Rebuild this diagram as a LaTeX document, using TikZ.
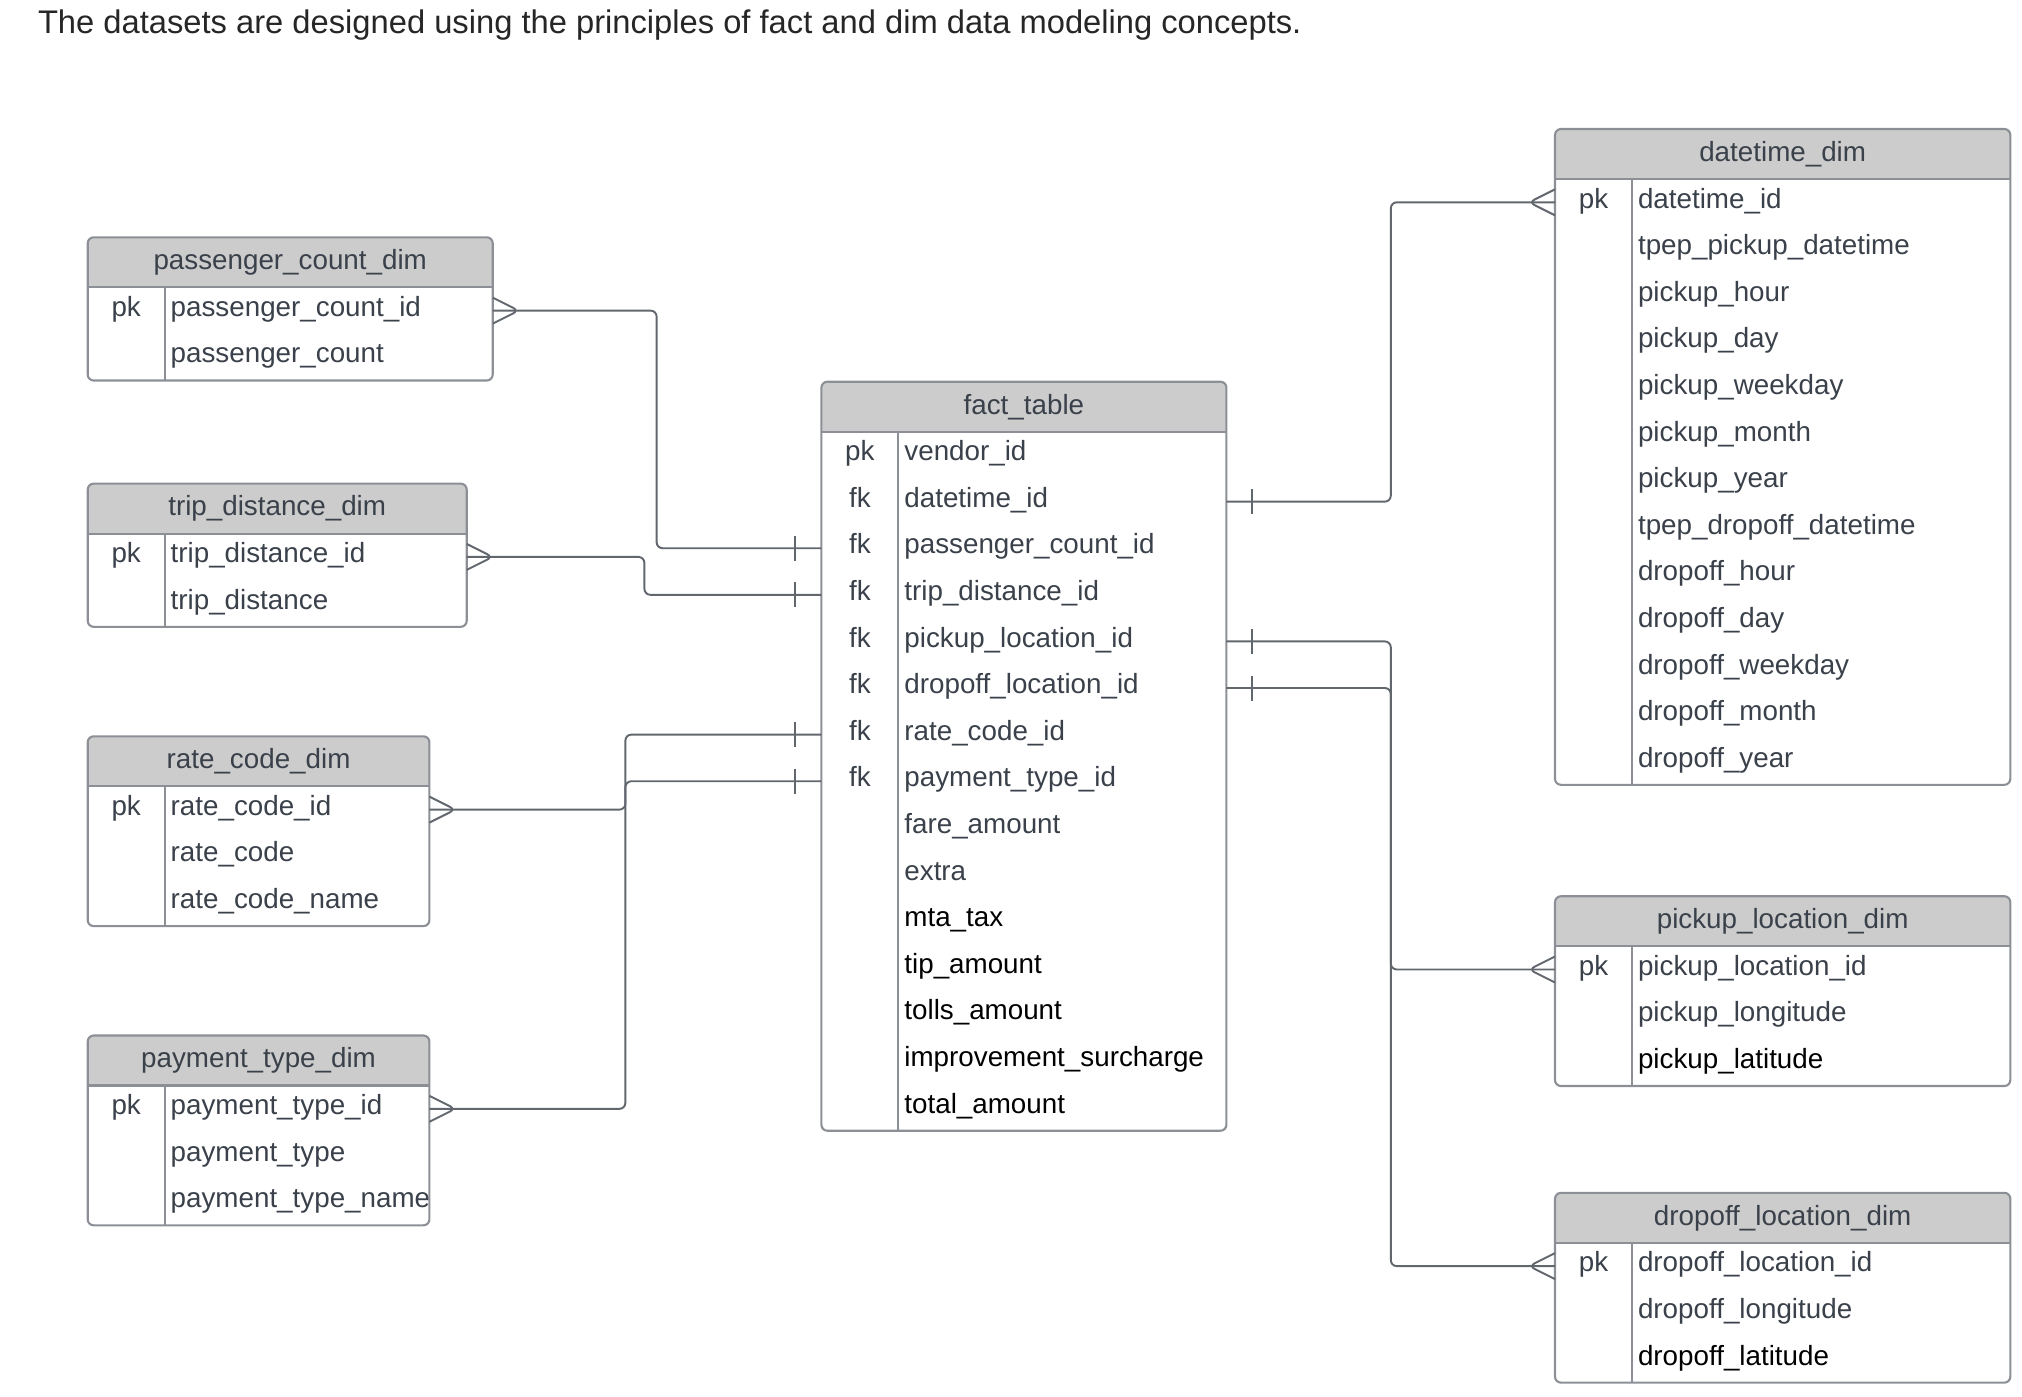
\documentclass[tikz,border=0pt]{standalone}
\usepackage{fontspec}
\setmainfont{Liberation Sans}
\usepackage{xcolor}
\usepackage{tikz}
\usetikzlibrary{calc}

\definecolor{borde}{HTML}{8C9096}
\definecolor{linea}{HTML}{62676E}
\definecolor{cabecera}{HTML}{CCCCCC}
\definecolor{texto}{HTML}{3A414A}

% Tabla: #1 nombre, #2 x, #3 y, #4 ancho, #5 filas, #6 titulo, #7 campos
\newcommand{\tabla}[7]{%
  \fill[cabecera] (#2,#3+50) [rounded corners=1.7pt] -- (#2,#3) -- (#2+#4,#3) [sharp corners] -- (#2+#4,#3+50) -- cycle;
  \node[cabtexto] (#1) at ({#2+#4/2},{#3+25}) {#6};
  \foreach \k/\f [count=\i] in {#7} {
    \node[fila, minimum width=#4*0.01cm] (#1-\i) at ({#2+#4/2},{#3+50+(\i-0.5)*46.6}) {};
    \node[clave] (#1-k\i) at ({#2+38.5},{#3+50+(\i-1)*46.6+29}) {\k};
    \node[campo] (#1-f\i) at ({#2+83},{#3+50+(\i-1)*46.6+29}) {\f};
  }
  \draw[marco] (#2,#3+50) -- (#2+#4,#3+50);
  \draw[marco] (#2+77,#3+50) -- (#2+77,{#3+50+#5*46.6});
  \draw[marco, rounded corners=1.7pt] (#2,#3) rectangle (#2+#4,{#3+50+#5*46.6});
}

\begin{document}
\begin{tikzpicture}[x=0.01cm, y=-0.01cm,
  every node/.style={font=\fontsize{7.9}{9}\selectfont, text=texto, inner sep=0pt, outer sep=0pt},
  cabtexto/.style={anchor=center},
  fila/.style={minimum height=0.466cm},
  clave/.style={anchor=base},
  campo/.style={anchor=base west},
  marco/.style={draw=borde, line width=0.6pt},
  conector/.style={draw=linea, line width=0.55pt, rounded corners=1.7pt}]

\useasboundingbox (0,0) rectangle (2022,1396);

% Texto superior
\node[anchor=base west, text=black!85, font=\fontsize{9.3}{11}\selectfont] (titulo) at (38,33)
  {The datasets are designed using the principles of fact and dim data modeling concepts.};

% Tablas de dimensiones (izquierda)
\tabla{pc}{87.7}{237.3}{405}{2}{passenger\_count\_dim}{pk/passenger\_count\_id, /passenger\_count}
\tabla{td}{87.7}{483.6}{379}{2}{trip\_distance\_dim}{pk/trip\_distance\_id, /trip\_distance}
\tabla{rc}{87.7}{736.3}{341.7}{3}{rate\_code\_dim}{pk/rate\_code\_id, /rate\_code, /rate\_code\_name}
\tabla{pt}{87.7}{1035.5}{341.7}{3}{payment\_type\_dim}{pk/payment\_type\_id, /payment\_type, /payment\_type\_name}

% Tabla de hechos
\tabla{fact}{821.4}{381.7}{405}{15}{fact\_table}{pk/vendor\_id, fk/datetime\_id, fk/passenger\_count\_id,
  fk/trip\_distance\_id, fk/pickup\_location\_id, fk/dropoff\_location\_id, fk/rate\_code\_id,
  fk/payment\_type\_id, /fare\_amount, /extra, /\color{black}mta\_tax, /\color{black}tip\_amount,
  /\color{black}tolls\_amount, /\color{black}improvement\_surcharge, /\color{black}total\_amount}

% Tablas de dimensiones (derecha)
\tabla{dt}{1555}{129}{455.3}{13}{datetime\_dim}{pk/datetime\_id, /tpep\_pickup\_datetime, /pickup\_hour,
  /pickup\_day, /pickup\_weekday, /pickup\_month, /pickup\_year, /tpep\_dropoff\_datetime,
  /dropoff\_hour, /dropoff\_day, /dropoff\_weekday, /dropoff\_month, /dropoff\_year}
\tabla{pl}{1555}{896.2}{455.3}{3}{pickup\_location\_dim}{pk/pickup\_location\_id, /pickup\_longitude, /\color{black}pickup\_latitude}
\tabla{dl}{1555}{1192.8}{455.3}{3}{dropoff\_location\_dim}{pk/dropoff\_location\_id, /dropoff\_longitude, /\color{black}dropoff\_latitude}

% Relaciones
\draw[conector] (pc-1.east) -- ++(163.9,0) |- (fact-3.west);
\draw[conector] (td-1.east) -- ++(177.7,0) |- (fact-4.west);
\draw[conector] (rc-1.east) -- ++(196,0) |- (fact-7.west);
\draw[conector] (pt-1.east) -- ++(196,0) |- (fact-8.west);
\draw[conector] (fact-2.east) -- ++(164.4,0) |- (dt-1.west);
\draw[conector] (fact-5.east) -- ++(164.4,0) |- (pl-1.west);
\draw[conector] (fact-6.east) -- ++(164.4,0) |- (dl-1.west);

% Pata de gallo (muchos)
\foreach \n in {pc-1,td-1,rc-1,pt-1}
  \draw[conector] ($(\n.east)+(0,-13)$) -- ($(\n.east)+(26,0)$) -- ($(\n.east)+(0,13)$);
\foreach \n in {dt-1,pl-1,dl-1}
  \draw[conector] ($(\n.west)+(0,-13)$) -- ($(\n.west)+(-26,0)$) -- ($(\n.west)+(0,13)$);

% Barra (uno)
\foreach \n in {fact-3,fact-4,fact-7,fact-8}
  \draw[conector] ($(\n.west)+(-26,-12.5)$) -- ++(0,25);
\foreach \n in {fact-2,fact-5,fact-6}
  \draw[conector] ($(\n.east)+(26,-12.5)$) -- ++(0,25);

\end{tikzpicture}
\end{document}
